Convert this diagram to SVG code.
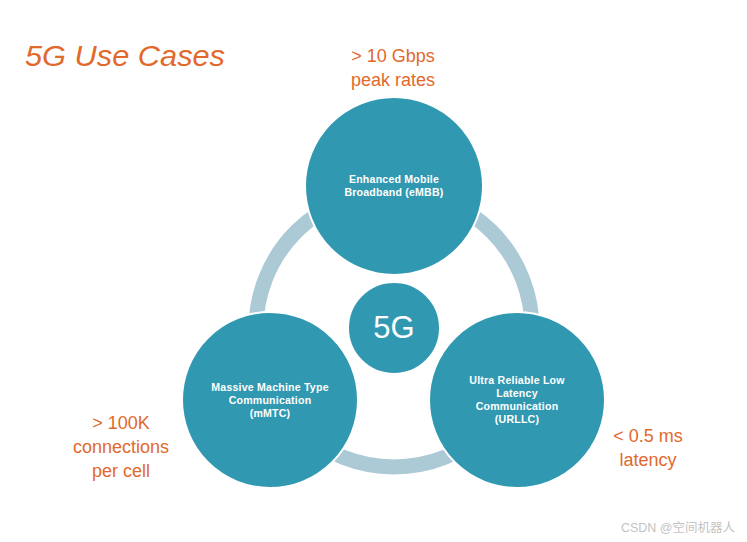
<svg xmlns="http://www.w3.org/2000/svg" width="747" height="542" viewBox="0 0 747 542">
<style>
.node{fill:#3198b1;stroke:#ffffff;stroke-width:2}
.lbl{font-family:"Liberation Sans",Arial,sans-serif;font-weight:bold;font-size:10.6px;fill:#ffffff;text-anchor:middle;letter-spacing:0.2px}
.note{font-family:"Liberation Sans",Arial,sans-serif;font-size:18px;fill:#e2692c;text-anchor:middle}
</style>
<rect width="747" height="542" fill="#ffffff"/>
<text x="25" y="66" font-family="Liberation Sans,Arial,sans-serif" font-style="italic" font-size="29" fill="#e2692c" textLength="200" lengthAdjust="spacingAndGlyphs">5G Use Cases</text>
<g id="connectors">
<circle cx="394" cy="329" r="138" fill="none" stroke="#abcad5" stroke-width="15"/>
</g>
<g id="embb">
<circle class="node" cx="394" cy="186" r="89"/>
<text class="lbl" x="394" y="183">Enhanced Mobile</text>
<text class="lbl" x="394" y="196">Broadband (eMBB)</text>
</g>
<g id="center">
<circle class="node" cx="394" cy="328" r="46"/>
<text x="394" y="338" font-family="Liberation Sans,Arial,sans-serif" font-size="31" fill="#ffffff" text-anchor="middle">5G</text>
</g>
<g id="mmtc">
<circle class="node" cx="270" cy="400" r="88"/>
<text class="lbl" x="270" y="391">Massive Machine Type</text>
<text class="lbl" x="270" y="404">Communication</text>
<text class="lbl" x="270" y="417">(mMTC)</text>
</g>
<g id="urllc">
<circle class="node" cx="517" cy="400" r="88"/>
<text class="lbl" x="517" y="384">Ultra Reliable Low</text>
<text class="lbl" x="517" y="397">Latency</text>
<text class="lbl" x="517" y="410">Communication</text>
<text class="lbl" x="517" y="423">(URLLC)</text>
</g>
<g id="notes">
<text class="note" x="393" y="62">&gt; 10 Gbps</text>
<text class="note" x="393" y="86">peak rates</text>
<text class="note" x="121" y="429">&gt; 100K</text>
<text class="note" x="121" y="453">connections</text>
<text class="note" x="121" y="477">per cell</text>
<text class="note" x="648" y="442">&lt; 0.5 ms</text>
<text class="note" x="648" y="466">latency</text>
</g>
<text x="735" y="532" font-family="Liberation Sans,'Noto Sans CJK SC',sans-serif" font-size="12.5" fill="#c4c4c4" text-anchor="end">CSDN @空间机器人</text>
</svg>
